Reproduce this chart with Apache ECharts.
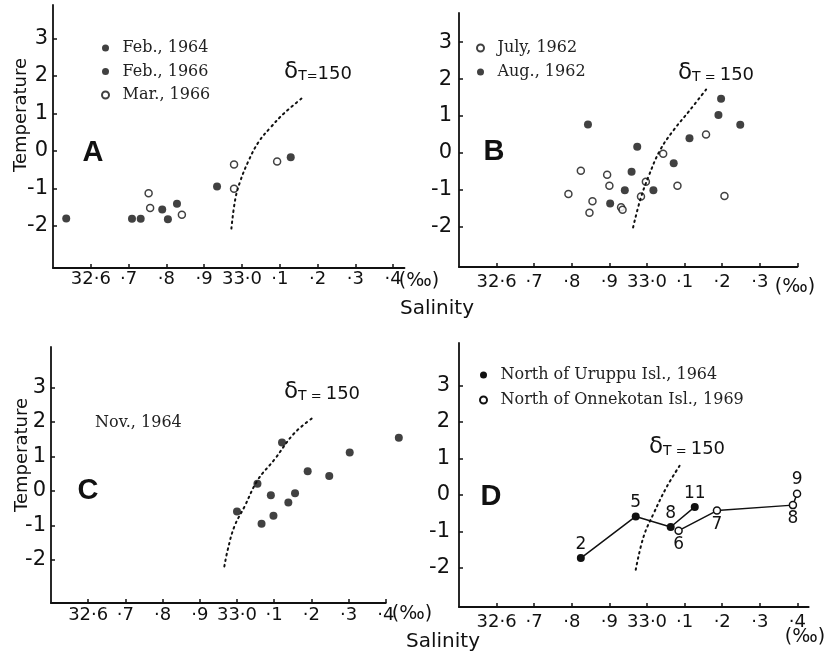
<!DOCTYPE html>
<html><head><meta charset="utf-8">
<script src="https://cdn.jsdelivr.net/npm/echarts@6/dist/echarts.min.js"></script>
<style>html,body{margin:0;padding:0;background:#fff}#c{width:830px;height:661px}</style>
</head><body><div id="c"></div>
<script>
// ---- tick labels ----
const xTickValues = [32.6, 32.7, 32.8, 32.9, 33.0, 33.1, 33.2, 33.3, 33.4];
const xTickLabels = ['32·6', '·7', '·8', '·9', '33·0', '·1', '·2', '·3', '·4'];
const xTickValuesB = [32.6, 32.7, 32.8, 32.9, 33.0, 33.1, 33.2, 33.3];
const yTickValues = [-2, -1, 0, 1, 2, 3];
const yTickLabels = ['-2', '-1', '0', '1', '2', '3'];

// ---- Panel A (salinity, temperature) ----
const aFeb1964 = [[32.535, -1.80], [32.709, -1.81], [32.732, -1.81], [32.934, -0.95], [33.129, -0.17]];
const aFeb1966 = [[32.789, -1.56], [32.804, -1.82], [32.828, -1.41]];
const aMar1966 = [[32.753, -1.13], [32.757, -1.52], [32.841, -1.70], [32.979, -1.01], [32.979, -0.36], [33.093, -0.28]];
const aDeltaT150 = [[32.972, -2.07], [32.982, -1.30], [32.995, -0.82], [33.018, -0.25], [33.044, 0.24], [33.076, 0.63], [33.111, 1.00], [33.164, 1.45]];

// ---- Panel B ----
const bJuly1962 = [[32.791, -1.11], [32.824, -0.48], [32.847, -1.62], [32.855, -1.31], [32.894, -0.59], [32.900, -0.89],
  [32.931, -1.47], [32.935, -1.54], [32.984, -1.18], [32.997, -0.78], [33.043, -0.02], [33.081, -0.89], [33.157, 0.50], [33.206, -1.17]];
const bAug1962 = [[32.843, 0.77], [32.902, -1.37], [32.941, -1.01], [32.959, -0.51], [32.974, 0.17], [33.017, -1.01],
  [33.071, -0.28], [33.113, 0.40], [33.190, 1.03], [33.197, 1.47], [33.248, 0.76]];
const bDeltaT150 = [[32.963, -2.02], [32.982, -1.27], [33.004, -0.64], [33.035, 0.08], [33.071, 0.62], [33.115, 1.17], [33.162, 1.78]];

// ---- Panel C ----
const cNov1964 = [[33.000, -0.60], [33.055, 0.21], [33.066, -0.95], [33.091, -0.13], [33.098, -0.72], [33.121, 1.40],
  [33.138, -0.34], [33.156, -0.07], [33.190, 0.57], [33.248, 0.43], [33.303, 1.11], [33.435, 1.54]];
const cDeltaT150 = [[32.966, -2.19], [32.975, -1.71], [32.993, -1.03], [33.020, -0.46], [33.056, 0.32], [33.100, 0.90], [33.154, 1.67], [33.208, 2.15]];

// ---- Panel D ----
const dUruppu1964 = [[32.824, -1.73], [32.970, -0.59], [33.063, -0.88], [33.127, -0.33]];
const dUruppuStations = ['2', '5', '8', '11'];
const dOnnekotan1969 = [[33.084, -0.98], [33.186, -0.43], [33.388, -0.28], [33.399, 0.03]];
const dOnnekotanStations = ['6', '7', '8', '9'];
const dDeltaT150 = [[32.970, -2.05], [32.991, -1.14], [33.018, -0.50], [33.053, 0.23], [33.090, 0.85]];

// ---- build ----
const INK = '#111';
const LABEL_FONT = 'DejaVu Sans';

function lookup(vals, labels, v) {
  for (let i = 0; i < vals.length; i++) if (Math.abs(vals[i] - v) < 1e-6) return labels[i];
  return '';
}
function xAxisFor(gi, max, labelVals, margin) {
  return {
    type: 'value', gridIndex: gi, min: 32.5, max: max,
    axisLine: { show: true, onZero: false, lineStyle: { color: INK, width: 1.8 } },
    axisTick: { show: true, inside: true, length: 4, customValues: xTickValues, lineStyle: { color: INK, width: 1.5 } },
    axisLabel: { show: true, customValues: labelVals, margin: margin, color: INK, fontFamily: LABEL_FONT, fontSize: 18,
      formatter: v => lookup(xTickValues, xTickLabels, v) },
    splitLine: { show: false }
  };
}
function yAxisFor(gi, min, max, margin) {
  return {
    type: 'value', gridIndex: gi, min: min, max: max,
    axisLine: { show: true, onZero: false, lineStyle: { color: INK, width: 1.8 } },
    axisTick: { show: true, inside: true, length: 4, customValues: yTickValues, lineStyle: { color: INK, width: 1.5 } },
    axisLabel: { show: true, customValues: yTickValues, margin: margin, color: INK, fontFamily: LABEL_FONT, fontSize: 21,
      formatter: v => lookup(yTickValues, yTickLabels, v) },
    splitLine: { show: false }
  };
}
const filled = { color: INK };
const open = { color: '#fff', borderColor: INK, borderWidth: 1.5 };
function scatter(name, data, gi, style, size, extra) {
  return Object.assign({ type: 'scatter', name: name, data: data, xAxisIndex: gi, yAxisIndex: gi,
    symbol: 'circle', symbolSize: size, itemStyle: style, emphasis: { disabled: true } }, extra || {});
}
function isoline(data, gi) {
  return { type: 'line', name: 'δT=150 ' + gi, data: data, xAxisIndex: gi, yAxisIndex: gi, smooth: 0.4,
    showSymbol: false, symbol: 'none', silent: true, lineStyle: { color: INK, width: 2, type: [1.6, 4], cap: 'round' } };
}
function stationLine(name, pts, stations, positions, gi, style, size) {
  return { type: 'line', name: name, xAxisIndex: gi, yAxisIndex: gi, symbol: 'circle', symbolSize: size,
    showAllSymbol: true, itemStyle: style, lineStyle: { color: INK, width: 1.5 }, emphasis: { disabled: true },
    data: pts.map((p, i) => ({ value: p, name: stations[i], label: { position: positions[i] } })),
    label: { show: true, formatter: p => p.name, distance: 1, color: INK, fontFamily: LABEL_FONT, fontSize: 17 } };
}
const legendText = { fontFamily: 'DejaVu Serif', fontSize: 16, color: '#222' };
function deltaLabel(x, y, spaced) {
  return { type: 'text', x: x, y: y, silent: true,
    style: { text: '{d|δ}{t|T}' + (spaced ? '{e| = }' : '{e|=}') + '{n|150}', align: 'center', verticalAlign: 'middle',
      rich: { d: { fontFamily: LABEL_FONT, fontSize: 23, fill: INK, verticalAlign: 'bottom' },
              t: { fontFamily: LABEL_FONT, fontSize: 14, fill: INK, verticalAlign: 'bottom' },
              e: { fontFamily: LABEL_FONT, fontSize: 13, fill: INK, verticalAlign: 'bottom' },
              n: { fontFamily: LABEL_FONT, fontSize: 18, fill: INK, verticalAlign: 'bottom' } } } };
}
function text(x, y, str, size, extra) {
  return Object.assign({ type: 'text', x: x, y: y, silent: true,
    style: { text: str, fontFamily: LABEL_FONT, fontSize: size, fill: INK, align: 'center', verticalAlign: 'middle' } }, extra || {});
}
function panelLetter(x, y, s) {
  return { type: 'text', x: x, y: y, silent: true,
    style: { text: s, fontFamily: 'Liberation Sans', fontWeight: 'bold', fontSize: 29, fill: INK, align: 'center', verticalAlign: 'middle' } };
}

const option = {
  backgroundColor: '#fff',
  animation: false,
  grid: [
    { left: 53, top: 5, width: 351.5, height: 263, outerBoundsMode: 'none' },
    { left: 459, top: 13, width: 338.4, height: 254, outerBoundsMode: 'none' },
    { left: 51, top: 347, width: 334.8, height: 256, outerBoundsMode: 'none' },
    { left: 459, top: 343, width: 349.7, height: 264, outerBoundsMode: 'none' }
  ],
  xAxis: [
    xAxisFor(0, 33.43, xTickValues, 2),
    xAxisFor(1, 33.4, xTickValuesB, 6),
    xAxisFor(2, 33.4, xTickValues, 3),
    xAxisFor(3, 33.43, xTickValues, 6)
  ],
  yAxis: [
    yAxisFor(0, -3.12, 3.89, 5),
    yAxisFor(1, -3.09, 3.79, 7),
    yAxisFor(2, -3.25, 4.17, 5),
    yAxisFor(3, -3.07, 4.16, 9)
  ],
  legend: [
    { data: ['Feb., 1964', 'Feb., 1966', 'Mar., 1966'], orient: 'vertical', left: 96, top: 35, itemWidth: 24, itemHeight: 7, itemGap: 7.5, textStyle: legendText, selectedMode: false },
    { data: ['July, 1962', 'Aug., 1962'], orient: 'vertical', left: 471, top: 35, itemWidth: 24, itemHeight: 7, itemGap: 8, textStyle: legendText, selectedMode: false },
    { data: ['Nov., 1964'], orient: 'vertical', left: 85, top: 410, icon: 'none', itemWidth: 0, itemHeight: 7, textStyle: legendText, selectedMode: false },
    { data: [{ name: 'North of Uruppu Isl., 1964', icon: 'circle' }, { name: 'North of Onnekotan Isl., 1969', icon: 'circle' }], orient: 'vertical', left: 474, top: 362, itemWidth: 24, itemHeight: 7, itemGap: 9, textStyle: legendText, selectedMode: false }
  ],
  series: [
    isoline(aDeltaT150, 0),
    scatter('Feb., 1964', aFeb1964, 0, filled, 8),
    scatter('Feb., 1966', aFeb1966, 0, filled, 8),
    scatter('Mar., 1966', aMar1966, 0, open, 7),
    isoline(bDeltaT150, 1),
    scatter('July, 1962', bJuly1962, 1, open, 7),
    scatter('Aug., 1962', bAug1962, 1, filled, 8),
    isoline(cDeltaT150, 2),
    scatter('Nov., 1964', cNov1964, 2, filled, 8, { clip: false }),
    isoline(dDeltaT150, 3),
    stationLine('North of Uruppu Isl., 1964', dUruppu1964, dUruppuStations, ['top', 'top', 'top', 'top'], 3, filled, 8),
    stationLine('North of Onnekotan Isl., 1969', dOnnekotan1969, dOnnekotanStations, ['bottom', 'bottom', 'bottom', 'top'], 3, open, 7)
  ],
  graphic: [
    text(21, 115, 'Temperature', 18, { rotation: Math.PI / 2 }),
    text(22, 455, 'Temperature', 18, { rotation: Math.PI / 2 }),
    text(437, 309, 'Salinity', 20),
    text(443, 642, 'Salinity', 20),
    text(419, 281, '(‰)', 19),
    text(795, 287, '(‰)', 19),
    text(412, 614, '(‰)', 19),
    text(805, 637, '(‰)', 19),
    deltaLabel(318, 72, false),
    deltaLabel(716, 73, true),
    deltaLabel(322, 392, true),
    deltaLabel(687, 447, true),
    panelLetter(93, 153, 'A'),
    panelLetter(494, 152, 'B'),
    panelLetter(88, 491, 'C'),
    panelLetter(491, 497, 'D')
  ]
};
const chart = echarts.init(document.getElementById('c'), null, { renderer: 'canvas' });
chart.setOption(option);
</script>
</body></html>
